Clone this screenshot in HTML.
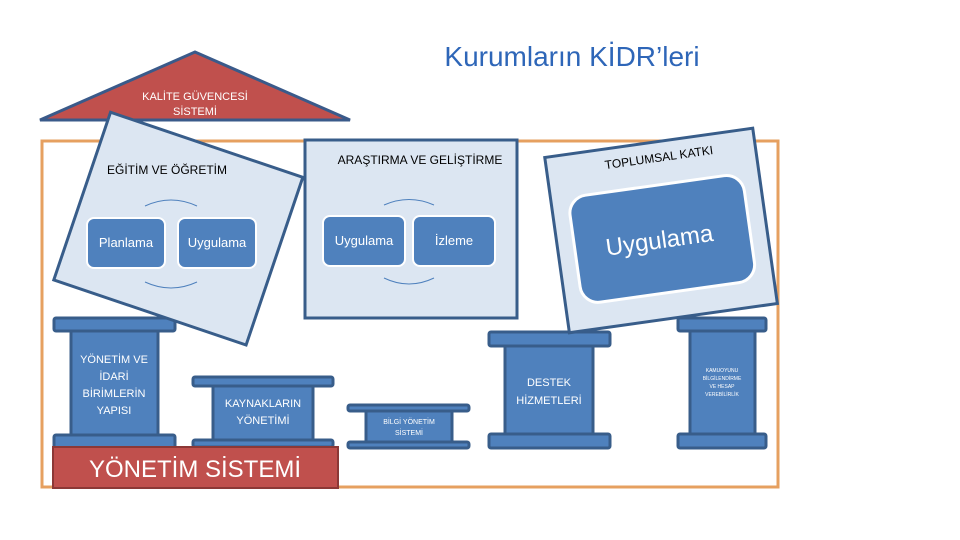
<!DOCTYPE html>
<html><head><meta charset="utf-8"><style>
html,body{margin:0;padding:0;background:#fff;}
svg{display:block;font-family:"Liberation Sans",sans-serif;}
</style></head><body>
<svg width="960" height="540" viewBox="0 0 960 540" xmlns="http://www.w3.org/2000/svg">
<text x="572" y="66" text-anchor="middle" font-size="28" fill="#2e66b8">Kurumların KİDR’leri</text>
<rect x="42" y="141" width="736" height="346" fill="none" stroke="#e6a060" stroke-width="3"/>
<polygon points="40,120 195,52 350,120" fill="#c0504d" stroke="#3a5a8a" stroke-width="3"/>
<text x="195" y="100" text-anchor="middle" font-size="11" fill="#fff">KALİTE GÜVENCESİ</text>
<text x="195" y="115" text-anchor="middle" font-size="11" fill="#fff">SİSTEMİ</text>

<g fill="#4f81bd" stroke="#385d8a" stroke-width="3">
<rect x="71" y="331" width="87" height="104"/>
<rect x="54" y="318" width="121" height="13" rx="2"/>
<rect x="54" y="435" width="121" height="13" rx="2"/>
<rect x="213" y="386" width="100" height="54"/>
<rect x="193" y="377" width="140" height="9" rx="2"/>
<rect x="193" y="440" width="140" height="7" rx="2"/>
<rect x="366" y="411" width="86" height="31"/>
<rect x="348" y="405" width="121" height="6" rx="2"/>
<rect x="348" y="442" width="121" height="6" rx="2"/>
<rect x="505" y="346" width="88" height="88"/>
<rect x="489" y="332" width="121" height="14" rx="2"/>
<rect x="489" y="434" width="121" height="14" rx="2"/>
<rect x="690" y="331" width="65" height="103"/>
<rect x="678" y="318" width="88" height="13" rx="2"/>
<rect x="678" y="434" width="88" height="14" rx="2"/>
</g>
<g fill="#fff" font-size="11" text-anchor="middle">
<text x="114" y="363">YÖNETİM VE</text>
<text x="114" y="380">İDARİ</text>
<text x="114" y="397">BİRİMLERİN</text>
<text x="114" y="414">YAPISI</text>
<text x="263" y="407">KAYNAKLARIN</text>
<text x="263" y="424">YÖNETİMİ</text>
<text x="409" y="424" font-size="7">BİLGİ YÖNETİM</text>
<text x="409" y="435" font-size="7">SİSTEMİ</text>
<text x="549" y="386">DESTEK</text>
<text x="549" y="404">HİZMETLERİ</text>
<text x="722" y="372" font-size="5">KAMUOYUNU</text>
<text x="722" y="380" font-size="5">BİLGİLENDİRME</text>
<text x="722" y="388" font-size="5">VE HESAP</text>
<text x="722" y="396" font-size="5">VEREBİLİRLİK</text>
</g>
<rect x="53" y="447" width="285" height="41" fill="#c0504d" stroke="#8c3836" stroke-width="2"/>
<text x="195" y="477" text-anchor="middle" font-size="24" fill="#fff">YÖNETİM SİSTEMİ</text>

<rect x="-101" y="-88" width="203" height="177" transform="translate(178,228) rotate(18.7)" fill="#dce6f2" stroke="#385d8a" stroke-width="3"/>
<text x="167" y="174" text-anchor="middle" font-size="12" fill="#000">EĞİTİM VE ÖĞRETİM</text>
<path d="M145,206 Q171,194 197,206" fill="none" stroke="#4f81bd"/>
<path d="M145,282 Q171,294 197,282" fill="none" stroke="#4f81bd"/>
<rect x="87" y="218" width="78" height="50" rx="7" fill="#4f81bd" stroke="#fff" stroke-width="2"/>
<rect x="178" y="218" width="78" height="50" rx="7" fill="#4f81bd" stroke="#fff" stroke-width="2"/>
<text x="126" y="247" text-anchor="middle" font-size="13" fill="#fff">Planlama</text>
<text x="217" y="247" text-anchor="middle" font-size="13" fill="#fff">Uygulama</text>

<rect x="305" y="140" width="212" height="178" fill="#dce6f2" stroke="#385d8a" stroke-width="3"/>
<text x="420" y="164" text-anchor="middle" font-size="12" fill="#000">ARAŞTIRMA VE GELİŞTİRME</text>
<path d="M384,205 Q409,194 434,205" fill="none" stroke="#4f81bd"/>
<path d="M384,278 Q409,290 434,278" fill="none" stroke="#4f81bd"/>
<rect x="323" y="216" width="82" height="50" rx="7" fill="#4f81bd" stroke="#fff" stroke-width="2"/>
<rect x="413" y="216" width="82" height="50" rx="7" fill="#4f81bd" stroke="#fff" stroke-width="2"/>
<text x="364" y="245" text-anchor="middle" font-size="13" fill="#fff">Uygulama</text>
<text x="454" y="245" text-anchor="middle" font-size="13" fill="#fff">İzleme</text>

<g transform="translate(661,230) rotate(-8)">
<rect x="-105" y="-88" width="210" height="177" fill="#dce6f2" stroke="#385d8a" stroke-width="3"/>
<text x="8" y="-68" text-anchor="middle" font-size="12" fill="#000">TOPLUMSAL KATKI</text>
<rect x="-88" y="-45" width="176" height="108" rx="18" fill="#4f81bd" stroke="#fff" stroke-width="3"/>
<text x="-3" y="18" text-anchor="middle" font-size="24" fill="#fff">Uygulama</text>
</g>
</svg>
</body></html>
